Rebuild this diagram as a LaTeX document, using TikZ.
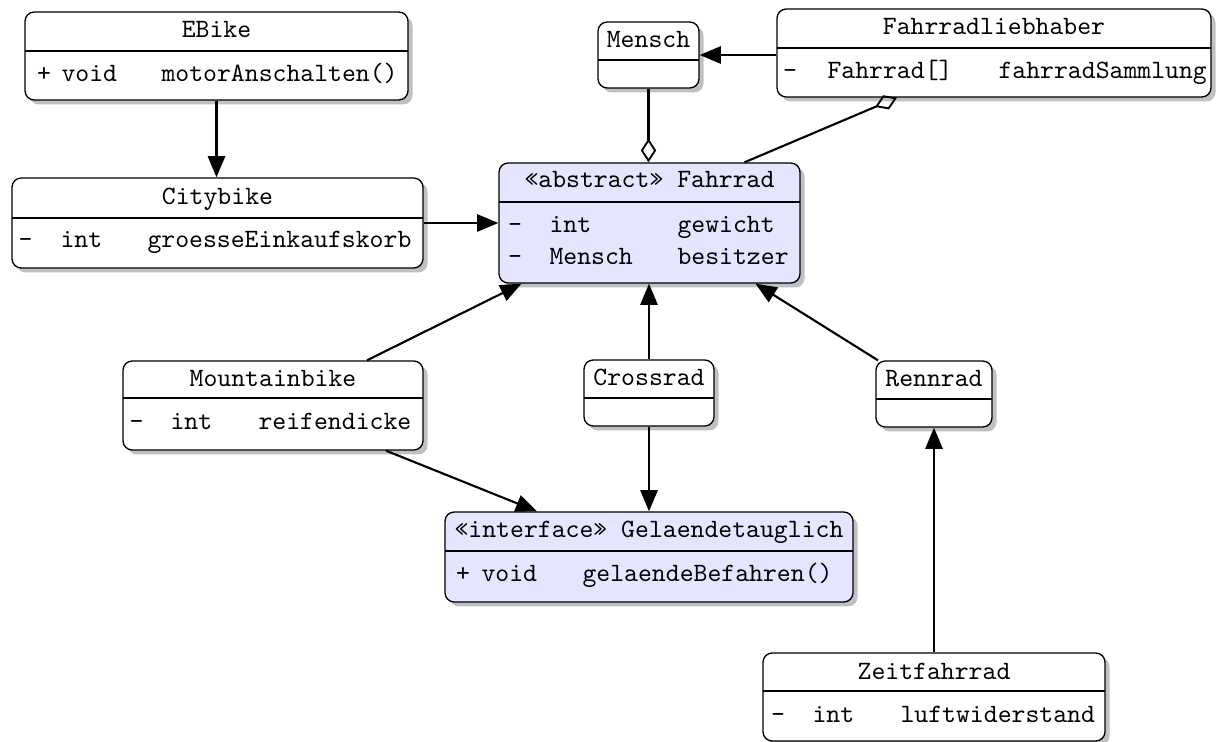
\documentclass[tikz,border=0pt]{standalone}
\usetikzlibrary{shadows,fit,calc,arrows.meta}
\newcommand\umlbox[7]{%
  \node[cls,#2,fit={(#3,#4)(#5,#6)}] (#1) {};
  \draw[divider] (#3,#7) -- (#5,#7);}
\tikzset{
  cls/.style={draw, line width=0.5pt, rounded corners=3.5pt, fill=white,
    drop shadow={shadow xshift=1.7pt, shadow yshift=-1.7pt, opacity=0.45, fill=black!55},
    inner sep=0pt},
  absfill/.style={fill=blue!10},
  ttl/.style={anchor=base, inner sep=0pt, font=\ttfamily},
  txt/.style={anchor=base west, inner sep=0pt, font=\ttfamily},
  sym/.style={anchor=base, inner sep=0pt, font=\ttfamily},
  divider/.style={line width=0.5pt},
  inherit/.style={line width=0.8pt, -{Triangle[length=8pt,width=6.5pt]}},
  aggr/.style={line width=0.8pt, -{Diamond[open,length=9pt,width=5.8pt,line width=0.7pt]}},
}
\begin{document}
\begin{tikzpicture}[x=0.378pt,y=-0.378pt]
\useasboundingbox (0,0) rectangle (1219,742);

% EBike
\umlbox{ebike}{}{25}{12}{408}{100}{51}
\node[ttl] (ebike-t) at (216.5,38) {EBike};
\node[sym] (ebike-s1) at (44,82) {+};
\node[txt] (ebike-y1) at (61,82) {void};
\node[txt] (ebike-n1) at (161,82) {motorAnschalten()};

% Citybike
\umlbox{citybike}{}{12}{178}{423}{268}{218}
\node[ttl] (citybike-t) at (217.5,205) {Citybike};
\node[sym] (citybike-s1) at (25.5,248) {-};
\node[txt] (citybike-y1) at (60,248) {int};
\node[txt] (citybike-n1) at (147,248) {groesseEinkaufskorb};

% Mensch
\umlbox{mensch}{}{598}{22}{699}{88}{60}
\node[ttl] (mensch-t) at (648.5,48) {Mensch};

% Fahrradliebhaber
\umlbox{fl}{}{777}{9}{1211}{97}{48}
\node[ttl] (fl-t) at (994,35) {Fahrradliebhaber};
\node[sym] (fl-s1) at (790,79) {-};
\node[txt] (fl-y1) at (827,79) {Fahrrad[]};
\node[txt] (fl-n1) at (998,79) {fahrradSammlung};

% Fahrrad
\umlbox{fahrrad}{absfill}{499}{163}{800}{283}{202}
\node[ttl] (fahrrad-t) at (649.5,188) {«abstract» Fahrrad};
\node[sym] (fahrrad-s1) at (515,233) {-};
\node[txt] (fahrrad-y1) at (549,233) {int};
\node[txt] (fahrrad-n1) at (677,233) {gewicht};
\node[sym] (fahrrad-s2) at (515,265) {-};
\node[txt] (fahrrad-y2) at (549,265) {Mensch};
\node[txt] (fahrrad-n2) at (677,265) {besitzer};

% Mountainbike
\umlbox{mtb}{}{123}{361}{423}{450}{398}
\node[ttl] (mtb-t) at (273,387) {Mountainbike};
\node[sym] (mtb-s1) at (136.5,430) {-};
\node[txt] (mtb-y1) at (170,430) {int};
\node[txt] (mtb-n1) at (258,430) {reifendicke};

% Crossrad
\umlbox{cross}{}{584}{360}{714}{426}{398}
\node[ttl] (cross-t) at (649,386) {Crossrad};

% Rennrad
\umlbox{renn}{}{876}{361}{992}{427}{399}
\node[ttl] (renn-t) at (934,387) {Rennrad};

% Gelaendetauglich
\umlbox{gel}{absfill}{445}{512}{853}{602}{551}
\node[ttl] (gel-t) at (649,538) {«interface» Gelaendetauglich};
\node[sym] (gel-s1) at (463,582) {+};
\node[txt] (gel-y1) at (481,582) {void};
\node[txt] (gel-n1) at (582,582) {gelaendeBefahren()};

% Zeitfahrrad
\umlbox{zeit}{}{763}{653}{1105}{741}{691}
\node[ttl] (zeit-t) at (934,680) {Zeitfahrrad};
\node[sym] (zeit-s1) at (778,723) {-};
\node[txt] (zeit-y1) at (812,723) {int};
\node[txt] (zeit-n1) at (900,723) {luftwiderstand};

% connectors
\draw[inherit] (ebike.south) -- (ebike.south |- citybike.north);
\draw[inherit] (citybike.east) -- (citybike.east -| fahrrad.west);
\draw[inherit] (mensch.east -| fl.west) -- (mensch.east);
\draw[aggr] (mensch.south) -- (mensch.south |- fahrrad.north);
\draw[aggr] ($(fahrrad.north)+(95,0)$) -- ($(fl.south)+(-97,0)$);
\draw[inherit] ($(mtb.north)+(94,0)$) -- ($(fahrrad.south)+(-128,0)$);
\draw[inherit] (cross.north) -- (cross.north |- fahrrad.south);
\draw[inherit] ($(renn.north)+(-56,0)$) -- ($(fahrrad.south)+(106,0)$);
\draw[inherit] ($(mtb.south)+(113,0)$) -- ($(gel.north)+(-112,0)$);
\draw[inherit] (cross.south) -- (cross.south |- gel.north);
\draw[inherit] (zeit.north) -- (renn.south);
\end{tikzpicture}
\end{document}
